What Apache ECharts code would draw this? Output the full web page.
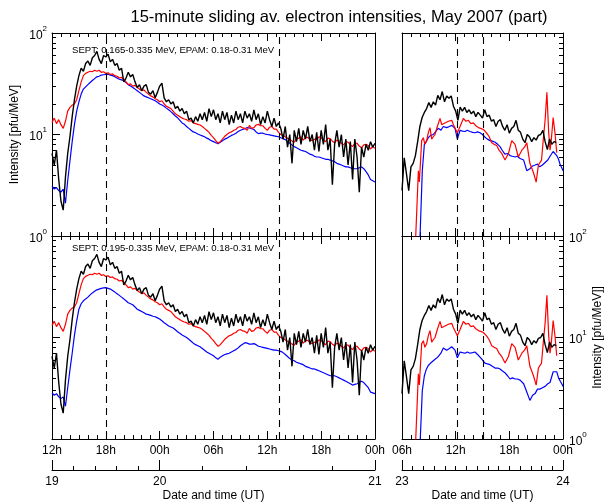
<!DOCTYPE html>
<html><head><meta charset="utf-8">
<script src="https://cdn.jsdelivr.net/npm/echarts@6/dist/echarts.min.js"></script>
<style>html,body{margin:0;padding:0;background:#fff}#c{width:609px;height:504px}</style>
</head><body><div id="c"></div>
<script>
// ---------------- DATA ----------------
// Left panels: hours since 12h UT, 19 May 2007 (0..36). Right panels: hours since 06h UT, 23 May 2007 (0..18)
const stepQ = 0.25; // sampling step (hours) of the regularly sampled curves

// black curve (same in top and bottom panels), left, 15-min samples
const blackLeft = [
 6.5,5.0,7.0,3.6, 2.2,1.8,3.8,6.5, 9.5,15,22,30, 38,45,42,50, 53,48,57,60, 66,55,50,60,
 58,62,52,55, 48,50,43,45, 33,36,41,37, 39,33,29,31, 27,30,31,26, 25,27,23,26,
 30,32,23,21, 22,20,21,18, 19,17,18,16, 17,14,14.5,13, 15,13.5,16,14, 16.5,13.5,18,15,
 17.5,14,16,13, 17,14,16.5,12.5, 15.5,13,17,14, 16,13,17,14.5, 16,13.5,17.5,14, 16,12.5,15,13,
 17,14,12,14.5, 12,13,11.5,9, 12,7.5,10,5.2, 11,8.5,11.5,8, 11,9,12,8.5, 10,7,10.5,6.8,
 11,8,12.5,7, 9,3.2,8,11, 7.5,10,6,9, 5,8.5,3.6,9, 6,2.7,7.5,6, 8,7,8.5,7.5, 8.2];
// red curve (same in top and bottom panels), left
const redLeft = [
 13.1,14.5,12.8,14, 12.5,11.5,13.5,17, 18.5,19.5,20,22, 27,33,38,40, 41,42,41.5,43, 42,43,41,41.5,
 40,40.5,39,39.5, 38,37.5,36,36.5, 35,33,31,31.5, 30,30.5,29,28, 27,27.5,26,25, 24,23.5,22.5,22,
 21,21.5,20,19, 18.5,18,17,16, 15.5,15,14.5,14.2, 14,13.5,13.7,13, 12.8,12.6,12.4,12, 11.5,11,10.5,9.8,
 9.3,8.7,8.2,8.5, 9,9.6,10,10.4, 10.6,11,11.2,11.8, 12,11.6,11.5,11, 12.3,11.5,11.7,12.4, 12.6,12.2,12.2,11.5,
 11,11.8,12,11.3, 11.3,10.5,10,9.8, 9.5,9.2,9,8.6, 8.4,9,9.2,9.5, 8.8,9.3,9.4,8.9, 8.7,9,8.9,9.5,
 9.3,8.8,8.5,9.2, 9.1,8.6,8.3,8.8, 8.6,8.2,7.9,8.4, 8.4,7.9,7.6,8.2, 8.2,7.7,7.4,7.9, 8.0,7.8,7.2,7.6, 7.3];
// blue curve, top-left (SEPT 0.165-0.335 MeV)
const blueTopLeft = [
 3.1,2.9,3.0,2.8, 2.7,2.9,2.1,3.5, 5.5,8.5,12.5,17, 21,25,28,29.5, 31,32.5,34,35.5, 37,37.5,38.5,38.8,
 39,39.2,38.5,38, 37,36,35,34.5, 34,32.5,31,30, 29,28,27,26, 25,24,23.5,23, 22.5,22,21.5,20.8,
 20,19.5,19,18.2, 17.5,16.8,16,15.2, 14.6,13.8,13,12.6, 12,11.5,11,10.6, 10.4,10.1,9.9,9.7, 9.5,9.2,9.0,8.7,
 8.5,8.3,8.1,8.4, 8.7,9.0,9.2,9.5, 9.8,10,10.3,10.7, 11,11.2,11.4,11.7, 11.6,11.4,11.2,10.6, 10.2,10.3,10.3,10.1,
 10,9.9,9.8,9.7, 9.6,9.5,9.3,9.1, 8.9,8.5,8.2,7.9, 7.6,7.4,7.2,7.0, 6.9,6.8,6.6,6.4, 6.3,6.1,6.0,6.0,
 5.9,5.8,5.7,5.7, 5.6,5.5,5.4,5.2, 5.1,5.0,4.9,4.8, 4.8,4.7,4.6,4.6, 4.6,4.7,4.8,4.6, 4.3,4.0,3.6,3.5, 3.4];
// blue curve, bottom-left (SEPT 0.195-0.335 MeV)
const blueBottomLeft = [
 2.85,2.7,2.8,2.6, 2.5,2.6,2.1,3.2, 4.8,7,10.5,14.5, 19,21.5,23,24, 25,26.3,27.5,28.5, 29.5,30,30.5,30.8,
 31,30.5,30,29, 28,27,26,25, 24,23,22,21.5, 21,20,19,18.5, 18,17.5,17,16.8, 16.5,16.2,16,15.6,
 15.2,14.6,14,13.5, 13,12.7,12.4,11.9, 11.4,11,10.6,10.3, 10,9.6,9.2,8.8, 8.5,8.3,8.1,7.8, 7.5,7.2,7.0,6.8,
 6.6,6.3,6.1,6.4, 6.6,6.8,6.9,7.0, 7.2,7.4,7.6,7.9, 8.3,8.6,8.9,8.8, 8.6,8.6,8.7,8.5, 8.2,8.1,8.0,7.9,
 7.8,7.7,7.6,7.5, 7.5,7.4,7.3,7.1, 6.8,6.5,6.2,6.0, 5.9,5.7,5.6,5.5, 5.4,5.2,5.1,5.0, 4.9,4.9,4.8,4.7,
 4.6,4.5,4.4,4.3, 4.2,4.2,4.2,4.1, 4.0,3.9,3.8,3.7, 3.6,3.5,3.4,3.45, 3.5,3.6,3.7,3.6, 3.4,3.2,2.9,2.85, 2.8];
// black curve, right panels, 15-min samples
const blackRight = [
 2.8,5.9,4.1,2.8, 4.8,5.2,6.2,8.5, 12,14.7,16.5,18, 20.7,18.5,21,19.5, 24.3,22,26.5,21, 24,22.8,24,19,
 17,13.8,18.6,17, 18.5,16.5,17.5,16, 17,15,16.5,15.5, 14.5,17.5,15,15.5, 13.5,14,12,13.5, 14,12,11,12.5,
 10.3,11.5,12,13.8, 11,10.5,9,8.3, 10,9.5,8.5,9.3, 8.8,9.8,10,11, 8.5,7.1,9,8, 8.5,8.3];
// red curve, right panels
const redRightT = [1.4,1.83,1.94,2.2,2.39,2.55,2.76,2.95,3.13,3.32, 3.5,3.69,3.95,4.25,4.44,4.62,4.8,5.0,5.18,5.37,
 5.56,5.75,5.93,6.19,6.49,6.86,7.15,7.42,7.7,7.98, 8.25,8.54,8.8,9.1,9.47,9.75,10.03,10.3,10.59,10.85,
 11.15,11.52,11.9,12.27,12.64,13.0,13.4,13.7,13.95,14.3, 14.7,15.0,15.25,15.6,15.8,16.0,16.2,16.4,16.55,16.7, 16.9,17.1,17.3];
const redRightV = [0.5,4.4,3.4,8.7,9.3,8,8.7,10.5,11.7,9, 9.5,10,12,14.4,12.5,12,13,12.5,13.5,13,
 13.8,12.5,12,10.4,12,14.4,13.5,13.8,12.8,13, 12.2,11.7,11.5,11.2,10.3,9.5,8.3,8,7.8,7,
 6.5,5.6,6.5,8.7,8.0,6,7,7.5,8.3,5.2, 4.2,3.4,5,5.6,9,13.8,26,10.4,7,9, 14.7,10.4,6.6];
// blue curves, right panels
const blueRightT = [1.9,2.27,2.5,2.7,2.94,3.2,3.5,3.8,4.06,4.35, 4.62,4.8,5.0,5.3,5.56,5.75,5.93,6.19,6.49,6.75,
 7.05,7.3,7.6,7.9,8.16,8.45,8.72,9.0,9.28,9.55, 9.84,10.1,10.4,10.7,10.96,11.2,11.5,11.8,12.08,12.35,
 12.64,12.9,13.2,13.6,13.95,14.3,14.6,14.88,15.15,15.4, 15.7,16.0,16.3,16.55,16.9,17.1,17.3,17.5,17.7,17.86, 18.0];
const blueTopRightV = [0.5,4.4,8,8.5,9.3,9.8,10,10.8,11.5,11, 12,12.4,11.7,12,12.3,12.5,11.5,9,11,10.8,
 10.7,11,10.7,10.5,10.4,10.6,10.4,10,9.4,9.0, 8.7,8.6,8.4,8.0,7.6,7.0,6.4,6.5,6.2,6.1,
 6.0,6.1,5.8,5.6,4.4,4.6,4.9,5.0,5.1,4.8, 5.0,5.3,5.6,6.1,6.8,7.0,6.2,5.7,5.0,4.7, 4.4];
const blueBottomRightV = [0.5,3.0,4.2,4.8,5.3,5.6,5.9,6.2,6.5,7.0, 7.9,7.6,7.5,7.8,8.1,7.8,7.5,6.3,7.2,7.1,
 7.0,7.2,7.0,7.1,7.2,6.8,6.4,6.0,5.6,5.5, 5.4,5.2,5.0,5.0,4.9,4.7,4.5,4.2,3.9,4.0,
 3.9,3.9,3.8,3.5,2.9,2.4,2.7,2.8,3.1,3.1, 3.2,3.3,3.5,3.6,4.6,4.7,4.6,4.0,3.7,3.5, 3.3];
// event times (dashed lines)
const eventsLeft = [6, 25.3];
const eventsRight = [6.15, 9.05];
// tick labels
const hourLabelsLeft = ['12h','18h','00h','06h','12h','18h','00h'];
const hourLabelsRight = ['06h','12h','18h','00h'];
const dateLabelsLeft = ['19','20','21'];
const dateLabelPosLeft = [0, 12, 36];
const dateTicksLeft = [0,2.4,4.8,7.2,9.6,12,16.8,21.6,26.4,31.2,36];
const dateLabelsRight = ['23','24'];
const dateLabelPosRight = [0, 18];
const dateTicksRight = [0,1.2,2.4,3.6,4.8,6,7.2,8.4,9.6,10.8,12,13.2,14.4,15.6,16.8,18];
const yMajor = [1, 10, 100];
const yMinor = [2,3,4,5,6,7,8,9,20,30,40,50,60,70,80,90];
const titleText = '15-minute sliding av. electron intensities, May 2007 (part)';
const noteTop = 'SEPT: 0.165-0.335 MeV, EPAM: 0.18-0.31 MeV';
const noteBottom = 'SEPT: 0.195-0.335 MeV, EPAM: 0.18-0.31 MeV';
const yName = 'Intensity [pfu/MeV]';
const yNameRight = 'Intensity [pfu/MeV]]';
const xName = 'Date and time (UT)';

// ---------------- CHART ----------------
const FONT = '"Liberation Sans", Arial, Helvetica, sans-serif';
const blk = () => ({color:'#000', width:1});
const stepped = arr => arr.map((v,i) => [i*stepQ, v]);
const zip = (t, v) => t.map((x,i) => [x, v[i]]);

const gridBase = {containLabel:false, outerBoundsMode:'none'};
const grids = [
  Object.assign({left:52, top:33, width:323, height:203}, gridBase),
  Object.assign({left:402, top:33, width:161, height:203}, gridBase),
  Object.assign({left:52, top:236, width:323, height:203}, gridBase),
  Object.assign({left:402, top:236, width:161, height:203}, gridBase)
];
const xAxes = [], yAxes = [];
const addX = o => (xAxes.push(o), xAxes.length-1);
const addY = o => (yAxes.push(o), yAxes.length-1);

function hourAxis(g, max, pos, labels){
  return {type:'value', gridIndex:g, min:0, max:max, interval:6, position:pos,
    axisLine:{show:true, onZero:false, lineStyle:blk()},
    axisTick:{show:true, inside:true, length:8, lineStyle:blk()},
    minorTick:{show:true, splitNumber:6, length:4, lineStyle:blk()},
    splitLine:{show:false},
    axisLabel: labels ? {show:true, margin:6, color:'#000', fontFamily:FONT, fontSize:12,
      showMinLabel:true, showMaxLabel:true,
      formatter: v => labels[Math.round(v/6)]} : {show:true, color:'rgba(0,0,0,0)', formatter: () => ''}
  };
}
function dateAxes(g, max, ticks, pos, labels){
  addX({type:'value', gridIndex:g, min:0, max:max, position:'bottom', offset:31,
    axisLine:{show:true, onZero:false, lineStyle:blk()},
    axisTick:{show:true, inside:true, length:4, customValues:ticks, lineStyle:blk()},
    axisLabel:{show:true, margin:6, color:'#000', fontFamily:FONT, fontSize:12, customValues:pos,
      showMinLabel:true, showMaxLabel:true,
      formatter: v => labels[pos.indexOf(v)]},
    splitLine:{show:false},
    name:xName, nameLocation:'middle', nameGap:20, nameMoveOverlap:false,
    nameTextStyle:{color:'#000', fontFamily:FONT, fontSize:12}
  });
  addX({type:'value', gridIndex:g, min:0, max:max, position:'bottom', offset:31,
    axisLine:{show:false}, axisTick:{show:true, inside:true, length:10, customValues:pos, lineStyle:blk()},
    axisLabel:{show:true, color:'rgba(0,0,0,0)', formatter: () => ''}, splitLine:{show:false}});
}
function yAx(g, pos, ticks, len, lineShow, labels, name){
  const o = {type:'log', logBase:10, gridIndex:g, min:1, max:100, position:pos,
    axisLine:{show:lineShow, onZero:false, lineStyle:blk()},
    axisTick: ticks ? {show:true, inside:true, length:len, customValues:ticks, lineStyle:blk()} : {show:false},
    axisLabel:{show:true, color:'rgba(0,0,0,0)', formatter: () => ''}, splitLine:{show:false}, minorTick:{show:false}};
  if (labels) {
    o.axisLabel = {show:true, customValues:yMajor, margin:pos==='left'?5:6, color:'#000',
      formatter: v => '{b|10}{s|' + Math.round(Math.log10(v)) + '}',
      rich:{b:{fontFamily:FONT, fontSize:12, color:'#000', padding:[5,0,0,0], verticalAlign:'bottom'},
            s:{fontFamily:FONT, fontSize:8, color:'#000', verticalAlign:'top'}}};
  }
  if (name) {
    o.name = name; o.nameLocation = 'middle'; o.nameGap = pos === 'left' ? 31 : 29; o.nameMoveOverlap = false;
    o.nameTextStyle = {color:'#000', fontFamily:FONT, fontSize:12};
  }
  return o;
}

const series = [];
function addPanel(g, max, hourLabels, leftTicks, leftLabels, leftName, rightTicks, rightLabels, rightName, curves, events){
  const xb = addX(hourAxis(g, max, 'bottom', hourLabels));
  addX(hourAxis(g, max, 'top', null));
  const yl = addY(yAx(g, 'left', leftTicks ? yMajor : null, 8, true, leftLabels, leftName));
  if (leftTicks) addY(yAx(g, 'left', yMinor, 4, false, false, null));
  addY(yAx(g, 'right', rightTicks ? yMajor : null, 8, true, rightLabels, rightName));
  if (rightTicks) addY(yAx(g, 'right', yMinor, 4, false, false, null));
  curves.forEach((c, i) => {
    const s = {type:'line', xAxisIndex:xb, yAxisIndex:yl, data:c.data, showSymbol:false, symbol:'none',
      lineStyle:{color:c.color, width:c.width}, itemStyle:{color:c.color}, clip:true, animation:false, z:2+i};
    if (i === curves.length-1) {
      s.markLine = {symbol:'none', silent:true, animation:false, label:{show:false},
        lineStyle:{color:'#000', type:[7,5], width:1.1},
        data: events.map(e => ({xAxis:e}))};
    }
    series.push(s);
  });
}

addPanel(0, 36, null, true, true, yName, false, false, null, [
  {data:stepped(blueTopLeft), color:'#0000ff', width:1.2},
  {data:stepped(redLeft), color:'#ff0000', width:1.2},
  {data:stepped(blackLeft), color:'#000000', width:1.4}], eventsLeft);
addPanel(1, 18, null, false, false, null, true, false, null, [
  {data:zip(blueRightT, blueTopRightV), color:'#0000ff', width:1.2},
  {data:zip(redRightT, redRightV), color:'#ff0000', width:1.2},
  {data:stepped(blackRight), color:'#000000', width:1.4}], eventsRight);
addPanel(2, 36, hourLabelsLeft, true, false, null, false, false, null, [
  {data:stepped(blueBottomLeft), color:'#0000ff', width:1.2},
  {data:stepped(redLeft), color:'#ff0000', width:1.2},
  {data:stepped(blackLeft), color:'#000000', width:1.4}], eventsLeft);
addPanel(3, 18, hourLabelsRight, false, false, null, true, true, yNameRight, [
  {data:zip(blueRightT, blueBottomRightV), color:'#0000ff', width:1.2},
  {data:zip(redRightT, redRightV), color:'#ff0000', width:1.2},
  {data:stepped(blackRight), color:'#000000', width:1.4}], eventsRight);
dateAxes(2, 36, dateTicksLeft, dateLabelPosLeft, dateLabelsLeft);
dateAxes(3, 18, dateTicksRight, dateLabelPosRight, dateLabelsRight);

const chart = echarts.init(document.getElementById('c'), null, {renderer:'canvas'});
chart.setOption({
  animation:false,
  backgroundColor:'#fff',
  grid: grids,
  xAxis: xAxes,
  yAxis: yAxes,
  series: series,
  graphic: [
    {type:'text', x:339, y:17, style:{text:titleText, font:'16.5px '+FONT, fill:'#000', align:'center', verticalAlign:'middle'}},
    {type:'text', x:72, y:45, style:{text:noteTop, font:'9.6px '+FONT, fill:'#000'}},
    {type:'text', x:72, y:243, style:{text:noteBottom, font:'9.6px '+FONT, fill:'#000'}}
  ]
});
</script></body></html>
